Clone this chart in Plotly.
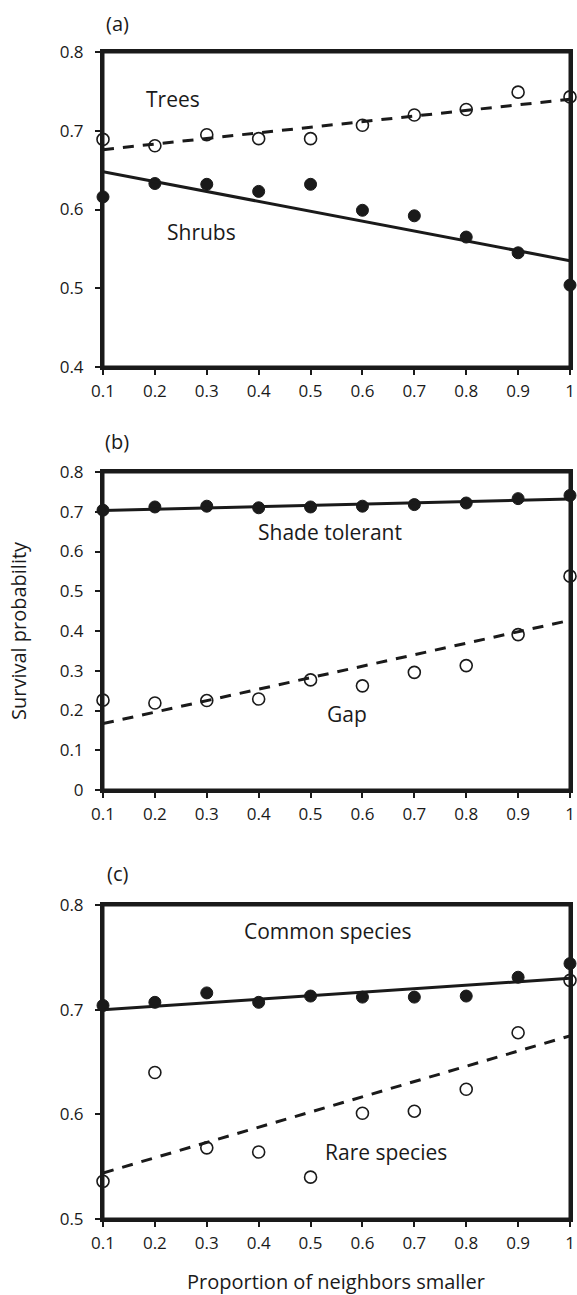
import plotly.graph_objects as go

# ---- data ----
x_vals = [0.1, 0.2, 0.3, 0.4, 0.5, 0.6, 0.7, 0.8, 0.9, 1.0]

# panel (a)
trees = [0.689, 0.681, 0.695, 0.690, 0.690, 0.707, 0.720, 0.727, 0.749, 0.743]
shrubs = [0.616, 0.633, 0.632, 0.623, 0.632, 0.599, 0.592, 0.565, 0.545, 0.504]
# panel (b)
shade_tolerant = [0.704, 0.712, 0.714, 0.710, 0.712, 0.714, 0.718, 0.722, 0.733, 0.741]
gap = [0.226, 0.219, 0.225, 0.229, 0.277, 0.262, 0.296, 0.313, 0.391, 0.538]
# panel (c)
common = [0.704, 0.707, 0.716, 0.707, 0.713, 0.712, 0.712, 0.713, 0.731, 0.744]
rare = [0.536, 0.640, 0.568, 0.564, 0.540, 0.601, 0.603, 0.624, 0.678, 0.728]

# fitted lines (end points)
fit_x = [0.1, 1.0]
trees_fit = [0.676, 0.740]
shrubs_fit = [0.648, 0.535]
shade_fit = [0.703, 0.732]
gap_fit = [0.167, 0.427]
common_fit = [0.700, 0.730]
rare_fit = [0.544, 0.675]

x_tick_vals = [0.1, 0.2, 0.3, 0.4, 0.5, 0.6, 0.7, 0.8, 0.9, 1.0]
x_tick_text = ["0.1", "0.2", "0.3", "0.4", "0.5", "0.6", "0.7", "0.8", "0.9", "1"]

FONT = "Open Sans"
INK = "#1a1a1a"
W, H = 577, 1295

fig = go.Figure()

panels = [
    ("x", "y", trees, shrubs, trees_fit, shrubs_fit),
    ("x2", "y2", gap, shade_tolerant, gap_fit, shade_fit),
    ("x3", "y3", rare, common, rare_fit, common_fit),
]

for xr, yr, open_s, filled_s, open_fit, filled_fit in panels:
    fig.add_trace(go.Scatter(
        x=x_vals, y=filled_s, xaxis=xr, yaxis=yr, mode="markers",
        marker=dict(symbol="circle", size=12, color=INK,
                    line=dict(color=INK, width=1)),
        cliponaxis=False, showlegend=False))
    fig.add_trace(go.Scatter(
        x=x_vals, y=open_s, xaxis=xr, yaxis=yr, mode="markers",
        marker=dict(symbol="circle", size=12, color="white",
                    line=dict(color=INK, width=1.6)),
        cliponaxis=False, showlegend=False))
    fig.add_trace(go.Scatter(
        x=fit_x, y=filled_fit, xaxis=xr, yaxis=yr, mode="lines",
        line=dict(color=INK, width=3), showlegend=False))
    fig.add_trace(go.Scatter(
        x=fit_x, y=open_fit, xaxis=xr, yaxis=yr, mode="lines",
        line=dict(color=INK, width=3, dash="11px,9px"), showlegend=False))

x_dom = [103 / W, 570 / W]
y_doms = [
    [1 - 367 / H, 1 - 52 / H],
    [1 - 790 / H, 1 - 472 / H],
    [1 - 1219 / H, 1 - 905 / H],
]
y_ranges = [[0.4, 0.8], [0.0, 0.8], [0.5, 0.8]]

axis_common = dict(
    showline=True, linecolor=INK, linewidth=3, mirror=True,
    showgrid=False, zeroline=False, ticks="outside", ticklen=5,
    tickwidth=1.5, tickcolor=INK,
    tickfont=dict(family=FONT, size=17, color=INK),
    automargin=False,
)

layout = dict(
    width=W, height=H, margin=dict(l=0, r=0, t=0, b=0),
    paper_bgcolor="white", plot_bgcolor="white",
    font=dict(family=FONT, color=INK),
)
for i in range(3):
    s = "" if i == 0 else str(i + 1)
    layout["xaxis" + s] = dict(
        axis_common, domain=x_dom, range=[0.1, 1.0], anchor="y" + s,
        tickmode="array", tickvals=x_tick_vals, ticktext=x_tick_text,
        ticklabelstandoff=2)
    layout["yaxis" + s] = dict(
        axis_common, domain=y_doms[i], range=y_ranges[i], anchor="x" + s,
        dtick=0.1, tick0=0, ticklabelstandoff=8)

fig.update_layout(**layout)

# explicit frame around each panel
for i in range(3):
    s = "" if i == 0 else str(i + 1)
    fig.add_shape(type="rect", xref="x" + s + " domain", yref="y" + s + " domain",
                  x0=0, x1=1, y0=0, y1=1, line=dict(color=INK, width=3),
                  fillcolor="rgba(0,0,0,0)", layer="above")

label_font = dict(family=FONT, size=21, color=INK)
text_labels = [
    ("x", "y", 0.235, 0.740, "Trees"),
    ("x", "y", 0.289, 0.571, "Shrubs"),
    ("x2", "y2", 0.537, 0.648, "Shade tolerant"),
    ("x2", "y2", 0.570, 0.192, "Gap"),
    ("x3", "y3", 0.533, 0.775, "Common species"),
    ("x3", "y3", 0.646, 0.564, "Rare species"),
]
for xr, yr, tx, ty, t in text_labels:
    fig.add_annotation(x=tx, y=ty, xref=xr, yref=yr, text=t, showarrow=False,
                       font=label_font, xanchor="center", yanchor="middle")

for t, py in [("(a)", 23), ("(b)", 442), ("(c)", 873)]:
    fig.add_annotation(x=117 / W, y=1 - py / H, xref="paper", yref="paper",
                       text=t, showarrow=False,
                       font=dict(family=FONT, size=20, color=INK),
                       xanchor="center", yanchor="middle")

fig.add_annotation(x=18 / W, y=1 - 631 / H, xref="paper", yref="paper",
                   text="Survival probability", showarrow=False, textangle=-90,
                   font=dict(family=FONT, size=20, color=INK),
                   xanchor="center", yanchor="middle")
fig.add_annotation(x=336 / W, y=1 - 1281 / H, xref="paper", yref="paper",
                   text="Proportion of neighbors smaller", showarrow=False,
                   font=dict(family=FONT, size=20, color=INK),
                   xanchor="center", yanchor="middle")

fig.write_html(
    "out.html",
    config={"displayModeBar": False},
    post_script="document.body.style.margin='0';"
                "document.body.style.overflow='hidden';",
)
